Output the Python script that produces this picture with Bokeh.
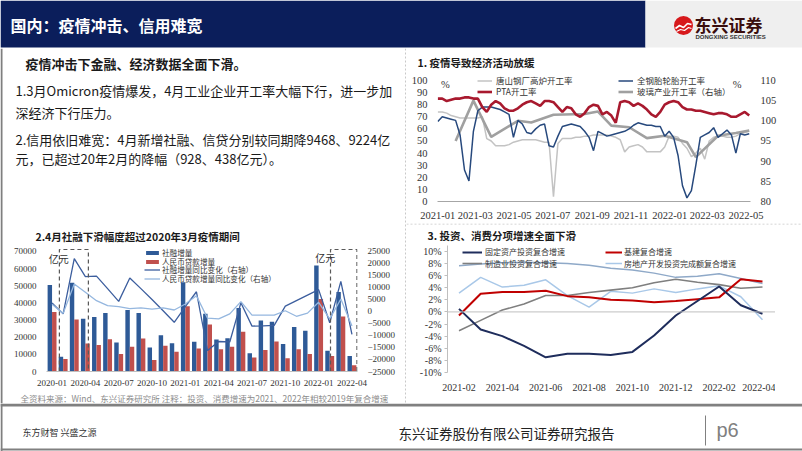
import pandas as pd
from datetime import datetime
from bokeh.plotting import figure
from bokeh.models import (Range1d, LinearAxis, FixedTicker, DatetimeTickFormatter, Legend, LegendItem,
                          Span, Label, PrintfTickFormatter, Spacer, ColumnDataSource)
from bokeh.layouts import column, row
from bokeh.transform import dodge
from bokeh.core.properties import value
from bokeh.embed import file_html
from bokeh.resources import INLINE

CJK = "Noto Sans CJK SC"
SERIF = "Liberation Serif"
NAVY = "#0B1E5B"

# ---------------- texts ----------------
slide_title = "国内：疫情冲击、信用难宽"
lead_line = "疫情冲击下金融、经济数据全面下滑。"
body_lines = ["1.3月Omicron疫情爆发，4月工业企业开工率大幅下行，进一步加",
              "深经济下行压力。",
              "2.信用依旧难宽：4月新增社融、信贷分别较同期降9468、9224亿",
              "元，已超过20年2月的降幅（928、438亿元）。"]
title1 = "1. 疫情导致经济活动放缓"
title2 = "2.4月社融下滑幅度超过2020年3月疫情期间"
title3 = "3. 投资、消费分项增速全面下滑"
note = "全资料来源：Wind、东兴证券研究所 注释：投资、消费增速为2021、2022年相较2019年复合增速"
footer_left = "东方财智 兴盛之源"
footer_mid = "东兴证券股份有限公司证券研究报告"
page_no = "p6"

# ---------------- chart 1: weekly operating rates ----------------
week_start = "2021-01-01"
n_weeks = 71
tangshan = [74, 74, 73, 71, 70, 69, 69, 69, 69, 69,
            70, 52, 50, 46, 46, 46, 47, 49, 50, 51,
            51, 51, 51, 50, 49, 49, 4, 48, 52, 52,
            52, 53, 53, 54, 54, 55, 55, 55, 55, 54,
            53, 51, 41, 45, 46, 47, 45, 41, 41, 41,
            41, 45, 54, 54, 53, 48, 44, 37, 40, 44,
            35, 50, 53, 54, 54, 53, 53, 54, 56, 57, 58]
tire = [66, 70, 69, 68, 67, 55, 26, 17, 58, 75,
        78, 78, 78, 77, 76, 74, 72, 53, 67, 64,
        57, 56, 60, 63, 64, 46, 45, 54, 62, 63,
        64, 63, 62, 58, 53, 42, 58, 56, 54, 55,
        56, 57, 58, 60, 63, 65, 64, 63, 63, 62,
        62, 54, 58, 53, 38, 13, 3, 9, 30, 53,
        55, 57, 61, 53, 56, 59, 55, 40, 56, 55, 56]
pta = [85, 85, 83, 84, 85, 85, 86, 86, 85, 85,
       78, 74, 80, 83, 81, 77, 75, 75, 77, 80,
       82, 83, 81, 79, 83, 83, 82, 78, 74, 78,
       77, 72, 70, 73, 78, 80, 79, 72, 74, 71,
       65, 82, 83, 82, 79, 81, 79, 76, 72, 70,
       74, 80, 82, 83, 82, 78, 76, 76, 75, 75,
       74, 73, 72, 73, 73, 72, 70, 70, 72, 74, 71]
glass_dates = ["2021-01-29", "2021-02-26", "2021-03-26", "2021-05-07", "2021-05-28", "2021-07-02",
               "2021-08-20", "2021-09-10", "2021-10-01", "2021-10-29", "2021-11-26", "2021-12-24",
               "2022-01-28", "2022-02-11", "2022-03-18", "2022-04-15", "2022-05-06"]
glass = [95.0, 105.0, 96.0, 100.0, 99.6, 101.5, 101.7, 102.3, 98.8, 98.4, 95.7, 96.3,
         94.7, 91.0, 96.3, 97.0, 97.6]
c1_ticks = ["2021-01", "2021-03", "2021-05", "2021-07", "2021-09", "2021-11", "2022-01", "2022-03", "2022-05"]
c1_labels = ["唐山钢厂高炉开工率", "PTA开工率", "全钢胎轮胎开工率", "玻璃产业开工率（右轴）"]

# ---------------- chart 2: TSF & loans ----------------
months2 = ["2020-01", "2020-02", "2020-03", "2020-04", "2020-05", "2020-06", "2020-07", "2020-08",
           "2020-09", "2020-10", "2020-11", "2020-12", "2021-01", "2021-02", "2021-03", "2021-04",
           "2021-05", "2021-06", "2021-07", "2021-08", "2021-09", "2021-10", "2021-11", "2021-12",
           "2022-01", "2022-02", "2022-03", "2022-04"]
tsf = [50400, 8600, 51800, 30700, 31800, 34100, 16900, 35900, 34100, 14000, 21100, 16500,
       52000, 17300, 33600, 18600, 19400, 37000, 10700, 29700, 29000, 16100, 25900, 23800,
       61800, 12100, 46400, 9000]
loans = [34700, 7300, 30300, 16300, 15500, 18800, 10200, 14400, 19200, 6700, 15000, 11500,
         38000, 13400, 27400, 12900, 14400, 23200, 8200, 12500, 17500, 7700, 12900, 10200,
         42200, 9000, 32000, 3600]
tsf_yoy = [3500, -1000, 22000, 14500, 14700, 9500, 4200, 13900, 9500, 5000, 300, -4500,
           2000, 8200, -16300, -12500, -12700, 3600, -6100, -6000, -5800, 2200, 4500, 6800,
           9100, -4700, 12500, -9500]
loans_yoy = [3000, -800, 11400, 8000, 4500, 2400, 2000, 1200, 1500, 1000, 1500, 600,
             3100, 6500, -2800, -3100, -1000, 4100, -1500, -1500, -1500, 300, -2000, -700,
             3800, -3100, 5200, -6100]
c2_labels = ["社融增量", "人民币贷款增量", "社融增量同比变化（右轴）", "人民币贷款增量同比变化（右轴）"]
covid_windows = [(0.66, 3.27), (25.07, 27.45)]   # dashed highlight boxes (month index)

# ---------------- chart 3: investment growth ----------------
months3 = ["2021-02", "2021-03", "2021-04", "2021-05", "2021-06", "2021-07", "2021-08", "2021-09",
           "2021-10", "2021-11", "2021-12", "2022-01", "2022-02", "2022-03", "2022-04"]
fai = [0.5, -2.9, -4.0, -5.6, -7.5, -6.9, -6.9, -7.1, -6.6, -3.9, -0.6, 1.8, 4.2, 1.1, -0.3]
infra = [-0.6, 3.0, 3.3, 3.3, 3.5, 2.6, 2.4, 2.0, 1.9, 1.6, 1.8, 2.1, 2.4, 5.4, 5.0]
manuf = [-3.1, -1.4, 0.3, 1.3, 2.7, 2.7, 3.2, 3.6, 4.0, 4.8, 5.4, 4.9, 4.5, 3.9, 4.1]
realestate = [3.1, 5.7, 4.1, 4.4, 5.3, 2.7, 0.8, 3.4, 3.1, 3.8, 3.2, 3.8, 4.3, 2.5, -1.3]
consumption = [7.6, 7.9, 8.1, 8.2, 8.1, 8.0, 7.7, 7.2, 6.9, 6.4, 5.7, 5.9, 6.3, 5.5, 4.7]
c3_labels = ["固定资产投资复合增速", "制造业投资复合增速", "基建复合增速", "房地产开发投资完成额复合增速"]


# ---------------- helpers ----------------
def deco(w, h):
    f = figure(width=w, height=h, x_range=Range1d(0, w), y_range=Range1d(h, 0),
               x_axis_location=None, y_axis_location=None, toolbar_location=None,
               output_backend="svg", min_border=0, outline_line_color=None, frame_align=False)
    f.grid.visible = False
    return f


def txt(f, x, y, s, size, color="#1a1a1a", font=CJK, bold=False, align="left"):
    f.text(x=[x], y=[y], text=[s], text_font=value(font), text_font_size=size, text_color=color,
           text_align=align, text_baseline="middle", text_font_style="bold" if bold else "normal")


def style_axis(ax, size="10px"):
    ax.major_label_text_font = SERIF
    ax.major_label_text_font_size = size
    ax.major_label_text_color = "#333333"
    ax.minor_tick_line_color = None
    ax.major_tick_line_color = None


def add_legend(p, label, rend, loc, gw, gh, size, standoff=3, lh=None):
    p.add_layout(Legend(items=[LegendItem(label=label, renderers=[rend])], location=loc,
                        glyph_width=gw, glyph_height=gh, label_height=lh if lh else gh,
                        label_standoff=standoff, spacing=0, padding=0, margin=0,
                        border_line_color=None, background_fill_alpha=0,
                        label_text_font=CJK, label_text_font_size=size, label_text_color="#333333"))


# ---------------- header ----------------
hdr = deco(802, 48)
hdr.quad(left=[0], right=[645], top=[0], bottom=[47], fill_color=NAVY, line_color=None)
hdr.quad(left=[645], right=[802], top=[0], bottom=[47], fill_color="#EFEFEF", line_color=None)
txt(hdr, 10, 24, slide_title, "16px", "white", bold=True)
hdr.scatter(x=[683], y=[25], size=19, marker="circle", fill_color="#D7191C", line_color=None)
hdr.line(x=[675, 679, 683, 687, 691], y=[28, 25, 27, 23, 24], line_color="white", line_width=1.6)
hdr.line(x=[676, 680, 684, 688, 691], y=[31, 29, 30, 27, 28], line_color="white", line_width=1.2)
txt(hdr, 694, 24, "东兴证券", "17px", "#3A0C0C", bold=True)
txt(hdr, 695, 36, "DONGXING SECURITIES", "6px", "#333333", font="Liberation Sans", bold=True)

# ---------------- left text ----------------
tf = deco(401, 174)
txt(tf, 22, 15, lead_line, "13px", bold=True)
for (yy, s) in zip([42, 64, 91, 110], body_lines):
    txt(tf, 12, yy, s, "13px")

# ---------------- chart titles ----------------
t1 = deco(396, 22)
txt(t1, 11, 14, title1, "10.5px", bold=True)
t2 = deco(401, 22)
txt(t2, 32, 14, title2, "10.5px", bold=True)
t3 = deco(396, 22)
t3.line(x=[0, 396], y=[0.5, 0.5], line_dash="2 2", line_color="#C8C8C8", line_width=1)
txt(t3, 21, 12, title3, "10.5px", bold=True)

# ---------------- chart 1 ----------------
week_dates = pd.date_range(week_start, periods=n_weeks, freq="7D")
top1 = 107.4
p1 = figure(width=396, height=153, x_axis_type="datetime",
            x_range=Range1d(datetime(2020, 12, 31, 12), datetime(2022, 5, 8)), y_range=Range1d(0, top1),
            toolbar_location=None, output_backend="svg", outline_line_color=None, frame_align=False,
            min_border_left=31, min_border_right=52, min_border_top=1, min_border_bottom=22)
p1.grid.visible = False
p1.extra_y_ranges = {"r": Range1d(80, 80 + 0.3 * top1)}
lax1 = p1.yaxis[0]
lax1.ticker = FixedTicker(ticks=list(range(0, 101, 10)))
rax1 = LinearAxis(y_range_name="r", ticker=FixedTicker(ticks=list(range(80, 111, 5))))
p1.add_layout(rax1, "right")
for ax in (lax1, rax1):
    style_axis(ax, "10.5px")
    ax.axis_line_color = None
    ax.major_label_standoff = 4
xax1 = p1.xaxis[0]
style_axis(xax1, "10.5px")
xax1.axis_line_color = "#A6A6A6"
xax1.major_label_standoff = 4
xax1.ticker = FixedTicker(ticks=[pd.Timestamp(m + "-01").value / 1e6 for m in c1_ticks])
xax1.formatter = DatetimeTickFormatter(days="%Y-%m", months="%Y-%m", years="%Y-%m", hours="%Y-%m")

r_steel = p1.line(week_dates, tangshan, line_color="#C3C3C3", line_width=1.5)
r_glass = p1.line(pd.to_datetime(glass_dates), glass, y_range_name="r", line_color="#A0A0A0", line_width=2.6)
r_tire = p1.line(week_dates, tire, line_color="#27497D", line_width=1.5)
r_pta = p1.line(week_dates, pta, line_color="#A8192E", line_width=2.6)
add_legend(p1, c1_labels[0], r_steel, (40, 114.8), 15, 11, "8.5px", 4)
add_legend(p1, c1_labels[1], r_pta, (40, 103.8), 15, 11, "8.5px", 4)
add_legend(p1, c1_labels[2], r_tire, (181, 114.8), 15, 11, "8.5px", 4)
add_legend(p1, c1_labels[3], r_glass, (181, 103.8), 15, 11, "8.5px", 4)
for xd in ["2021-01-13", "2022-04-17"]:
    p1.add_layout(Label(x=pd.Timestamp(xd).value / 1e6, y=96.5, text="%", text_font=SERIF,
                        text_font_size="10.5px", text_color="#333333", text_align="center",
                        text_baseline="middle"))

# ---------------- chart 2 ----------------
src2 = ColumnDataSource(dict(i=list(range(len(months2))), tsf=tsf, loans=loans,
                             tsf_yoy=tsf_yoy, loans_yoy=loans_yoy))
top2 = 128 / 122 * 70000
p2 = figure(width=401, height=144, x_range=Range1d(-0.5, 27.5), y_range=Range1d(0, top2),
            toolbar_location=None, output_backend="svg", outline_line_color=None, frame_align=False,
            min_border_left=43, min_border_right=47, min_border_top=1, min_border_bottom=15)
p2.grid.visible = False
p2.extra_y_ranges = {"r": Range1d(-25000, -25000 + 128 / 122 * 50000)}
lax2 = p2.yaxis[0]
lax2.ticker = FixedTicker(ticks=list(range(0, 70001, 10000)))
rax2 = LinearAxis(y_range_name="r", ticker=FixedTicker(ticks=list(range(-25000, 25001, 5000))))
p2.add_layout(rax2, "right")
for ax in (lax2, rax2):
    style_axis(ax, "9px")
    ax.axis_line_color = None
    ax.major_label_standoff = 4
xax2 = p2.xaxis[0]
style_axis(xax2, "9px")
xax2.axis_line_color = "#BFBFBF"
xax2.major_label_standoff = 2
xax2.ticker = FixedTicker(ticks=list(range(0, 28, 3)))
xax2.major_label_overrides = {i: months2[i] for i in range(0, 28, 3)}

rb = p2.vbar(x=dodge("i", -0.2, range=p2.x_range), top="tsf", width=0.4, source=src2,
             fill_color="#2E5A97", line_color=None)
rr = p2.vbar(x=dodge("i", 0.2, range=p2.x_range), top="loans", width=0.4, source=src2,
             fill_color="#C0504D", line_color=None)
rl1 = p2.line("i", "tsf_yoy", source=src2, y_range_name="r", line_color="#3C5E9E", line_width=1.3)
rl2 = p2.line("i", "loans_yoy", source=src2, y_range_name="r", line_color="#95B7DF", line_width=1.3)
for (a, b) in covid_windows:
    p2.line(x=[a, a, b, b], y=[0, 71100, 71100, 0], line_dash="4 3", line_color="#595959", line_width=1.2)
for (lab, rend, yy, gh) in zip(c2_labels, [rb, rr, rl1, rl2], [112.8, 104.2, 96.2, 86.8], [5, 5, 9, 9]):
    add_legend(p2, lab, rend, (98, yy), 16, gh, "7.6px", 2, lh=9)
for (xx, yy) in [(0.6, 66000), (24.6, 66500)]:
    p2.add_layout(Label(x=xx, y=yy, text="亿元", text_font=CJK, text_font_size="10px",
                        text_color="#333333", text_align="center", text_baseline="middle"))

# note
nf = deco(401, 15)
txt(nf, 17, 9, note, "8.5px", "#8C8C8C")

# ---------------- chart 3 ----------------
x3 = list(range(len(months3)))
p3 = figure(width=369, height=158, x_range=Range1d(-0.53, 14.6), y_range=Range1d(-10, 10.96),
            toolbar_location=None, output_backend="svg", outline_line_color=None, frame_align=False,
            min_border_left=41, min_border_right=0, min_border_top=0, min_border_bottom=31)
p3.grid.visible = False
yax3 = p3.yaxis[0]
style_axis(yax3, "10px")
yax3.ticker = FixedTicker(ticks=list(range(-10, 11, 2)))
yax3.formatter = PrintfTickFormatter(format="%d%%")
yax3.axis_line_color = "#BFBFBF"
yax3.major_tick_line_color = "#BFBFBF"
yax3.major_tick_out = 3
yax3.major_tick_in = 0
yax3.major_label_standoff = 3
xax3 = p3.xaxis[0]
style_axis(xax3, "10px")
xax3.axis_line_color = None
xax3.major_label_standoff = 5
xax3.ticker = FixedTicker(ticks=list(range(0, 15, 2)))
xax3.major_label_overrides = {i: months3[i] for i in range(0, 15, 2)}
p3.add_layout(Span(location=0, dimension="width", line_color="#BFBFBF", line_width=1))

r_cons = p3.line(x3, consumption, line_color="#8FA9C8", line_width=1.5)
r_re = p3.line(x3, realestate, line_color="#A9C8E8", line_width=1.5)
r_man = p3.line(x3, manuf, line_color="#7F7F7F", line_width=1.6)
r_inf = p3.line(x3, infra, line_color="#C00000", line_width=2)
r_fai = p3.line(x3, fai, line_color="#1F2D5C", line_width=2)
add_legend(p3, c3_labels[0], r_fai, (15, 114.3), 20, 12, "8px", 3)
add_legend(p3, c3_labels[1], r_man, (15, 102.7), 20, 12, "8px", 3)
add_legend(p3, c3_labels[2], r_inf, (158, 114.3), 17, 12, "8px", 2)
add_legend(p3, c3_labels[3], r_re, (158, 102.7), 17, 12, "8px", 2)

# ---------------- borders, separator & footer ----------------
bord = deco(3, 355)
bord.line(x=[1, 1], y=[0, 355], line_color="#7F7F7F", line_width=2)
sep = deco(2, 355)
sep.line(x=[1, 1], y=[0, 355], line_dash="2 2", line_color="#C8C8C8", line_width=1)

ff = deco(802, 48)
ff.line(x=[0, 802], y=[1.5, 1.5], line_color="#808080", line_width=3)
ff.line(x=[0, 802], y=[46, 46], line_color="#808080", line_width=2)
ff.line(x=[1, 1], y=[0, 48], line_color="#7F7F7F", line_width=2)
txt(ff, 22, 29, footer_left, "9px", "#333333")
txt(ff, 398, 29, footer_mid, "13.5px", "#222222")
ff.line(x=[705, 705], y=[12, 42], line_color="#808080", line_width=1)
txt(ff, 716, 26, page_no, "20px", "#808080", font="Liberation Sans")

left_col = column(tf, t2, p2, nf)
right_col = column(t1, p1, t3, row(p3, Spacer(width=27, height=158)))
layout = column(hdr, row(bord, left_col, sep, right_col), ff)

open("out.html", "w").write(file_html(layout, INLINE))
